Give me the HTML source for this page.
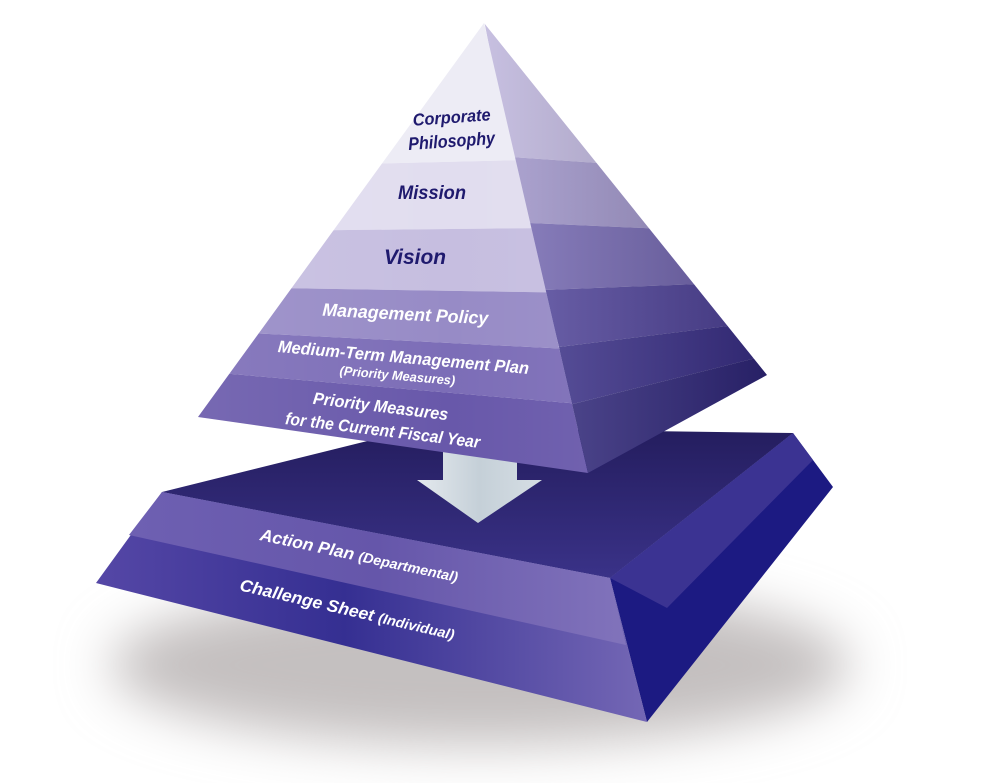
<!DOCTYPE html>
<html><head><meta charset="utf-8"><style>
html,body{margin:0;padding:0;background:#fff;}
svg{display:block;}
text{font-family:"Liberation Sans",sans-serif;font-weight:bold;font-style:italic;}
</style></head><body>
<svg width="1000" height="783" viewBox="0 0 1000 783" xmlns="http://www.w3.org/2000/svg">
<defs>
<filter id="blur" x="-30%" y="-60%" width="160%" height="220%"><feGaussianBlur stdDeviation="26"/></filter>
<clipPath id="front"><polygon points="484,23 198,417 588,473"/></clipPath>
<clipPath id="right"><polygon points="484,23 588,473 767,375"/></clipPath>
<linearGradient id="rg" x1="0" y1="0" x2="1" y2="0">
<stop offset="0" stop-color="#fff" stop-opacity="0.2"/><stop offset="1" stop-color="#000" stop-opacity="0.2"/></linearGradient>
<linearGradient id="fg" x1="0" y1="0" x2="1" y2="0">
<stop offset="0" stop-color="#fff" stop-opacity="0.12"/><stop offset="0.6" stop-color="#fff" stop-opacity="0"/><stop offset="1" stop-color="#fff" stop-opacity="0.08"/></linearGradient>
<linearGradient id="arrow" x1="0" y1="0" x2="1" y2="0">
<stop offset="0" stop-color="#e4e9ee"/><stop offset="0.5" stop-color="#c5d0d8"/><stop offset="1" stop-color="#d6dee4"/></linearGradient>
<linearGradient id="slabA" x1="0" y1="0" x2="1" y2="0">
<stop offset="0" stop-color="#6e60b2"/><stop offset="0.5" stop-color="#6556aa"/><stop offset="1" stop-color="#8173bb"/></linearGradient>
<linearGradient id="slabB" x1="0" y1="0" x2="1" y2="0">
<stop offset="0" stop-color="#5547a6"/><stop offset="0.45" stop-color="#352f92"/><stop offset="1" stop-color="#7467b5"/></linearGradient>
<linearGradient id="top" x1="0" y1="0" x2="0" y2="1">
<stop offset="0" stop-color="#241d5e"/><stop offset="1" stop-color="#3a3288"/></linearGradient>
</defs>
<ellipse cx="480" cy="665" rx="370" ry="80" fill="#c4c0c0" filter="url(#blur)"/>
<!-- slab -->
<polygon points="162,492 420,428 793,433 610,578" fill="url(#top)"/>
<polygon points="610,578 793,433 833,487 647,722" fill="#1c1a82"/>
<polygon points="610,578 793,433 813,460 667,608" fill="#3b3392"/>
<polygon points="162,492 610,578 647,722 96,583" fill="url(#slabB)"/>
<polygon points="162,492 610,578 626,645 129,535" fill="url(#slabA)"/>
<!-- arrow -->
<polygon points="443,440 517,440 517,480 542,480 478,523 417,480 443,480" fill="url(#arrow)"/>
<!-- pyramid front -->
<g clip-path="url(#front)">
<polygon points="150,0 650,0 650,157 150,169" fill="#edecf5"/>
<polygon points="150,169 650,157 650,227 150,232" fill="#e1ddef"/>
<polygon points="150,232 650,227 650,294 150,286" fill="#c6bee0"/>
<polygon points="150,286 650,294 650,353 150,328" fill="#978bc6"/>
<polygon points="150,328 650,353 650,410 150,367" fill="#7c6db7"/>
<polygon points="150,367 650,410 650,500 150,500" fill="#6858aa"/>
<rect x="150" y="0" width="500" height="500" fill="url(#fg)"/>
</g>
<!-- pyramid right -->
<g clip-path="url(#right)">
<polygon points="480,0 800,0 800,177 511,157" fill="#b9b0d9"/>
<polygon points="511,157 800,177 800,235 530,223" fill="#9c91c8"/>
<polygon points="530,223 800,235 800,280 544,290" fill="#7265b2"/>
<polygon points="544,290 800,280 800,317 559,347" fill="#4f429c"/>
<polygon points="559,347 800,317 800,347 569,405" fill="#3b308c"/>
<polygon points="569,405 800,347 800,500 560,500" fill="#31287f"/>
<polygon points="484,23 767,375 588,473" fill="url(#rg)"/>
</g>
<!-- labels -->
<g fill="#1f1a6e">
<text x="452" y="123" font-size="17" text-anchor="middle" textLength="78" lengthAdjust="spacingAndGlyphs" transform="rotate(-4 452 123)">Corporate</text>
<text x="452" y="147" font-size="18" text-anchor="middle" textLength="87" lengthAdjust="spacingAndGlyphs" transform="rotate(-4 452 147)">Philosophy</text>
<text x="432" y="199" font-size="19" text-anchor="middle" textLength="68" lengthAdjust="spacingAndGlyphs">Mission</text>
<text x="415" y="264" font-size="21" text-anchor="middle" textLength="62" lengthAdjust="spacingAndGlyphs">Vision</text>
</g>
<g fill="#fff">
<text x="405" y="320" font-size="18" text-anchor="middle" textLength="166" lengthAdjust="spacingAndGlyphs" transform="rotate(3 405 320)">Management Policy</text>
<text x="403" y="363" font-size="17" text-anchor="middle" textLength="252" lengthAdjust="spacingAndGlyphs" transform="rotate(5 403 363)">Medium-Term Management Plan</text>
<text x="397" y="380" font-size="13" text-anchor="middle" textLength="116" lengthAdjust="spacingAndGlyphs" transform="rotate(5 397 380)">(Priority Measures)</text>
<text x="380" y="412" font-size="17" text-anchor="middle" textLength="136" lengthAdjust="spacingAndGlyphs" transform="rotate(7 380 412)">Priority Measures</text>
<text x="382" y="436" font-size="17" text-anchor="middle" textLength="196" lengthAdjust="spacingAndGlyphs" transform="rotate(7 382 436)">for the Current Fiscal Year</text>
<text x="358" y="561" font-size="17" text-anchor="middle" textLength="202" lengthAdjust="spacingAndGlyphs" transform="rotate(12 358 561)">Action Plan <tspan font-size="14">(Departmental)</tspan></text>
<text x="346" y="615" font-size="17" text-anchor="middle" textLength="220" lengthAdjust="spacingAndGlyphs" transform="rotate(13 346 615)">Challenge Sheet <tspan font-size="14">(Individual)</tspan></text>
</g>
</svg>
</body></html>
